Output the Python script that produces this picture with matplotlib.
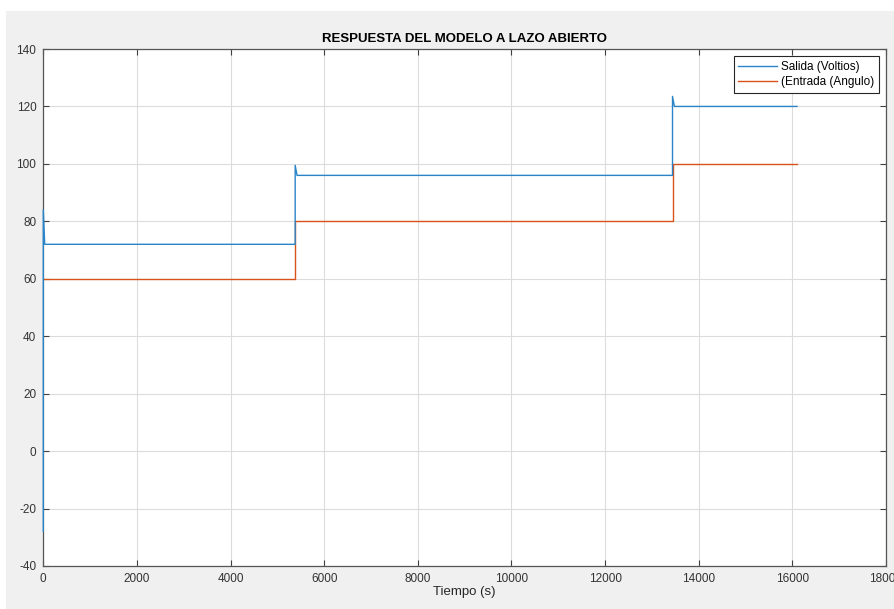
import numpy as np
import matplotlib.pyplot as plt
from matplotlib.patches import Rectangle

# datos (tiempo en s)
salida_t = [0, 0, 30, 5380, 5380, 5420, 13440, 13440, 13480, 16100]
salida_v = [-28, 84, 72, 72, 99.5, 96, 96, 123.5, 120, 120]

entrada_t = [0, 5380, 5380, 13440, 13440, 16100]
entrada_v = [60, 60, 80, 80, 100, 100]

xticks = np.arange(0, 18001, 2000)
yticks = np.arange(-40, 141, 20)

plt.rcParams['font.family'] = ['Liberation Sans', 'DejaVu Sans']
plt.rcParams['axes.unicode_minus'] = False

fig = plt.figure(figsize=(8.94, 6.09), dpi=100, facecolor='white')
# fondo gris de la ventana de matlab
fig.patches.append(Rectangle((6/894, 0), 1, (609-11)/609, transform=fig.transFigure,
                             facecolor='#f0f0f0', edgecolor='none', zorder=-10))

ax = fig.add_axes([43.3/894, 1-566/609, (886-43.3)/894, (566-49)/609])
ax.set_facecolor('white')

ax.plot(salida_t, salida_v, color='#2a84c8', lw=1.0, label='Salida (Voltios)',
        zorder=3, clip_on=False)
ax.plot(entrada_t, entrada_v, color='#D95319', lw=1.0, label='(Entrada (Angulo)', zorder=2)

ax.set_xlim(0, 18000)
ax.set_ylim(-40, 140)
ax.set_xticks(xticks)
ax.set_yticks(yticks)
ax.grid(True, color='#dcdcdc', lw=0.8)
ax.set_axisbelow(True)
ax.tick_params(direction='in', top=True, right=True, length=4, width=0.8,
               colors='#404040', labelsize=8.5, labelcolor='#333333', pad=5)
for s in ax.spines.values():
    s.set_color('#555555')
    s.set_linewidth(0.9)

ax.set_title('RESPUESTA DEL MODELO A LAZO ABIERTO', fontsize=9.5, fontweight='bold',
             color='black', pad=5)
ax.set_xlabel('Tiempo (s)', fontsize=9.5, color='#262626', labelpad=1)

leg = ax.legend(loc='upper right', fontsize=8.5, fancybox=False, framealpha=1,
                edgecolor='#262626', handlelength=3.3, borderpad=0.4,
                labelspacing=0.3, handletextpad=0.3, borderaxespad=0.6)
leg.get_frame().set_linewidth(0.8)

fig.savefig('out.png', dpi=100, facecolor=fig.get_facecolor())
